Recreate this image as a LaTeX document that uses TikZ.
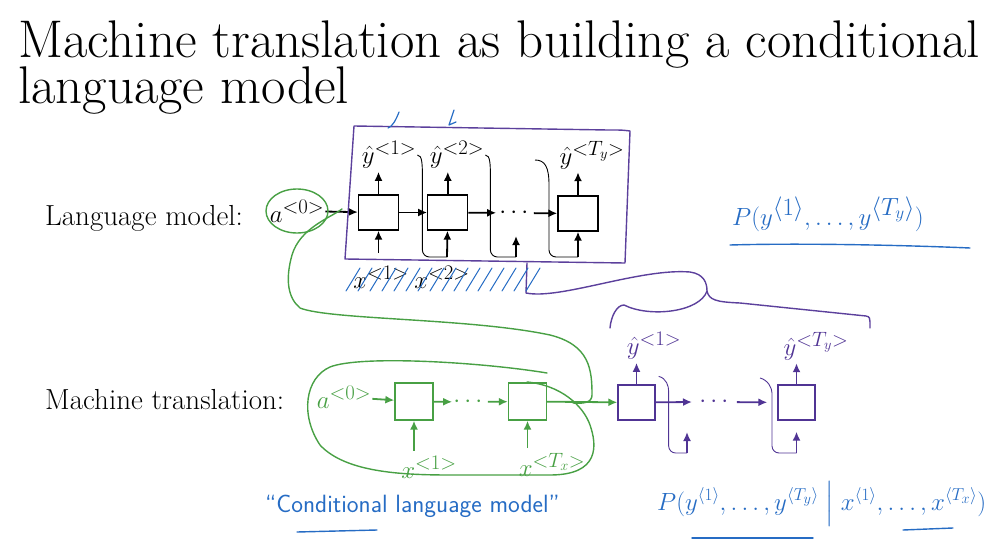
\documentclass[tikz,border=0pt]{standalone}
\usepackage{amsmath}
\usetikzlibrary{arrows.meta, positioning, calc}
\definecolor{inkblue}{RGB}{38,108,196}
\definecolor{inkgreen}{RGB}{72,160,68}
\definecolor{boxpurple}{RGB}{92,64,156}
\definecolor{decpurple}{RGB}{80,52,148}
\tikzset{
  cell/.style={
    rectangle, draw, line width=1.3pt,
    minimum width=40pt, minimum height=35pt, inner sep=0pt
  },
  lbl/.style={font=\fontsize{28}{28}\selectfont, inner sep=1pt},
  sidelbl/.style={font=\fontsize{29}{32}\selectfont, anchor=base west, inner sep=0pt},
  titletext/.style={font=\fontsize{53}{55}\selectfont, anchor=base west, inner sep=0pt},
  flow/.style={line width=1.8pt, -{Latex[length=9pt,width=8pt]}},
  fb/.style={line width=0.9pt, rounded corners=7pt},
  ink/.style={inkblue, line width=1.4pt, line cap=round, line join=round},
  gloop/.style={inkgreen, line width=1.4pt, line cap=round},
  pbrace/.style={boxpurple, line width=1.4pt, line cap=round, line join=round},
}

\begin{document}
\begin{tikzpicture}[x=1pt, y=-1pt]
  \useasboundingbox (0,0) rectangle (1001,543);

  \node (title1) [titletext] at (18,58)  {Machine translation as building a conditional};
  \node (title2) [titletext] at (18,103) {language model};

  \node (lmlab) [sidelbl] at (45,225) {Language model:};
  \node (mtlab) [sidelbl] at (45,409) {Machine translation:};

  % language model
  \node (c1)    [cell] at (378.5,212.5) {};
  \node (c2)    [cell, right=28pt of c1] {};
  \node (ldots) [lbl] at (516,213) {$\cdots$};
  \node (c3)    [cell] at (578,213.5) {};
  \node (a0)    [lbl] at (297,211) {$a^{<0>}$};
  \node (yh1)   [lbl] at (389,155) {$\hat{y}^{<1>}$};
  \node (yh2)   [lbl] at (457,155) {$\hat{y}^{<2>}$};
  \node (yh3)   [lbl] at (592,155) {$\hat{y}^{<T_y>}$};
  \node (x1)    [lbl] at (381,277) {$x^{<1>}$};
  \node (x2)    [lbl] at (442,277) {$x^{<2>}$};

  \coordinate (f1) at (378.5,253);
  \coordinate (f2) at (447,257);
  \coordinate (f3) at (516,257);
  \coordinate (t3) at (516,236);
  \coordinate (f4) at (578,257);
  \coordinate (s4) at (535,160);

  \draw [flow] (a0)    -- (c1);
  \draw [flow] (c1)    -- (c2);
  \draw [flow, shorten >=2pt] (c2) -- (ldots);
  \draw [flow] (ldots) -- (c3);
  \draw [flow] (f1) -- (c1);
  \draw [flow] (f2) -- (c2);
  \draw [flow] (f3) -- (t3);
  \draw [flow] (f4) -- (c3);
  \draw [flow, shorten >=2pt] (c1) -- (c1 |- yh1.south);
  \draw [flow, shorten >=2pt] (c2) -- (c2 |- yh2.south);
  \draw [flow, shorten >=2pt] (c3) -- (c3 |- yh3.south);

  \draw [fb] (yh1.east) .. controls +(5,0) and +(0,-20) .. ++(5,30) |- (f2);
  \draw [fb] (yh2.east) .. controls +(5,0) and +(0,-20) .. ++(5,30) |- (f3);
  \draw [fb] (s4) .. controls +(10,0) and +(0,-25) .. ++(14,32) |- (f4);

  \draw [pbrace] (354,126) -- (608,130) .. controls (622,130) .. (630,131)
    -- (625,263) -- (345,259) -- cycle;

  % machine translation: encoder
  \node (e1)    [cell, draw=inkgreen, minimum width=38pt, minimum height=37pt] at (414,401.5) {};
  \node (edots) [lbl, text=inkgreen] at (470,402) {$\cdots$};
  \node (e2)    [cell, draw=inkgreen, minimum width=38pt, minimum height=37pt] at (527.5,401.5) {};
  \node (ea0)   [lbl, text=inkgreen] at (344,397) {$a^{<0>}$};
  \node (ex1)   [lbl, text=inkgreen] at (429,467) {$x^{<1>}$};
  \node (ex2)   [lbl, text=inkgreen] at (552,465) {$x^{<T_x>}$};

  \draw [flow, inkgreen] (ea0)   -- (e1);
  \draw [flow, inkgreen] (e1)    -- (edots);
  \draw [flow, inkgreen] (edots) -- (e2);
  \draw [flow, inkgreen, shorten <=4pt] (ex1.north -| e1) -- (e1);
  \draw [flow, inkgreen, shorten <=4pt] (ex2.north -| e2) -- (e2);

  % machine translation: decoder
  \node (d1)    [cell, draw=decpurple, minimum width=37pt] at (636.5,402.5) {};
  \node (ddots) [lbl, text=decpurple] at (716,402) {$\cdots$};
  \node (d2)    [cell, draw=decpurple, minimum width=37pt] at (796.5,402.5) {};
  \node (dy1)   [lbl, text=decpurple] at (654,346) {$\hat{y}^{<1>}$};
  \node (dy2)   [lbl, text=decpurple] at (816,346) {$\hat{y}^{<T_y>}$};

  \coordinate (dm) at (692,402);
  \coordinate (g1) at (687,453);
  \coordinate (h1) at (687,432);
  \coordinate (g2) at (796.5,453);
  \coordinate (s5) at (760,378);

  \draw [flow, inkgreen] (e2) -- (d1);
  \draw [flow, decpurple] (d1) -- (dm);
  \draw [flow, decpurple, shorten <=3pt, shorten >=10pt] (ddots) -- (d2);
  \draw [flow, decpurple, shorten >=2pt] (d1) -- (d1 |- dy1.south);
  \draw [flow, decpurple, shorten >=2pt] (d2) -- (d2 |- dy2.south);
  \draw [flow, decpurple] (g1) -- (h1);
  \draw [flow, decpurple, shorten >=11pt] (g2) -- (d2);

  \draw [fb, decpurple] ($(d1.north east)+(3,-8)$) .. controls +(8,2) and +(0,-12) .. ++(10,22) |- (g1);
  \draw [fb, decpurple] (s5) .. controls +(8,2) and +(0,-12) .. ++(12,22) |- (g2);

  % purple braces
  \draw [pbrace] (527,263) -- (526,293) .. controls (560,300) and (640,268) .. (690,272)
    .. controls (704,274) and (707,283) .. (707,291);
  \draw [pbrace] (610,328) .. controls (611,316) and (617,305) .. (624,305)
    .. controls (650,318) and (700,312) .. (707,291)
    .. controls (709,300) and (716,302) .. (740,303) -- (866,316)
    .. controls (870,317) .. (870,328);

  % green loops
  \draw [gloop] (a0) ellipse [x radius=31pt, y radius=22pt];
  \draw [gloop] (342,209) .. controls (330,218) and (300,228) .. (292,255)
    .. controls (285,280) and (288,298) .. (300,308)
    .. controls (330,320) and (470,318) .. (550,335)
    .. controls (590,345) and (592,370) .. (592,395)
    .. controls (592,402) and (585,404) .. (573,403);
  \draw [gloop] (547,373) .. controls (480,362) and (360,355) .. (330,367)
    .. controls (305,378) and (300,415) .. (320,445)
    .. controls (345,472) and (400,475) .. (450,475) -- (550,475)
    .. controls (600,475) and (597,445) .. (590,425)
    .. controls (583,405) and (560,385) .. (527,382);

  % blue notes
  \foreach \hx in {346,358,...,526}
    \draw [ink, line width=1pt] (\hx,291) -- (\hx+14,268);
  \draw [ink, line width=1.2pt] (388,128) .. controls (392,127) and (396,120) .. (399,112);
  \draw [ink, line width=1.2pt] (454,110) -- (449,125) -- (456,122);

  \node (pjoint) [text=inkblue, font=\fontsize{36}{36}\selectfont, anchor=base west, inner sep=0pt]
    at (732,225) {$P(y^{\langle 1\rangle},\ldots,y^{\langle T_y\rangle})$};
  \draw [ink] (730,245) .. controls (800,243) and (900,245) .. (970,248);

  \node (cond) [text=inkblue, font=\fontsize{25}{25}\sffamily, anchor=base west, inner sep=0pt]
    at (265,512) {“Conditional language model”};
  \draw [ink] (297,532) -- (377,530);

  \node (pcond) [text=inkblue, font=\fontsize{26.5}{28}\selectfont, anchor=base west, inner sep=0pt]
    at (657,510) {$P(y^{\langle 1\rangle},\ldots,y^{\langle T_y\rangle}\;\Big|\;x^{\langle 1\rangle},\ldots,x^{\langle T_x\rangle})$};
  \draw [ink] (692,538) -- (813,538);
  \draw [ink] (903,530) -- (953,528);
\end{tikzpicture}
\end{document}
